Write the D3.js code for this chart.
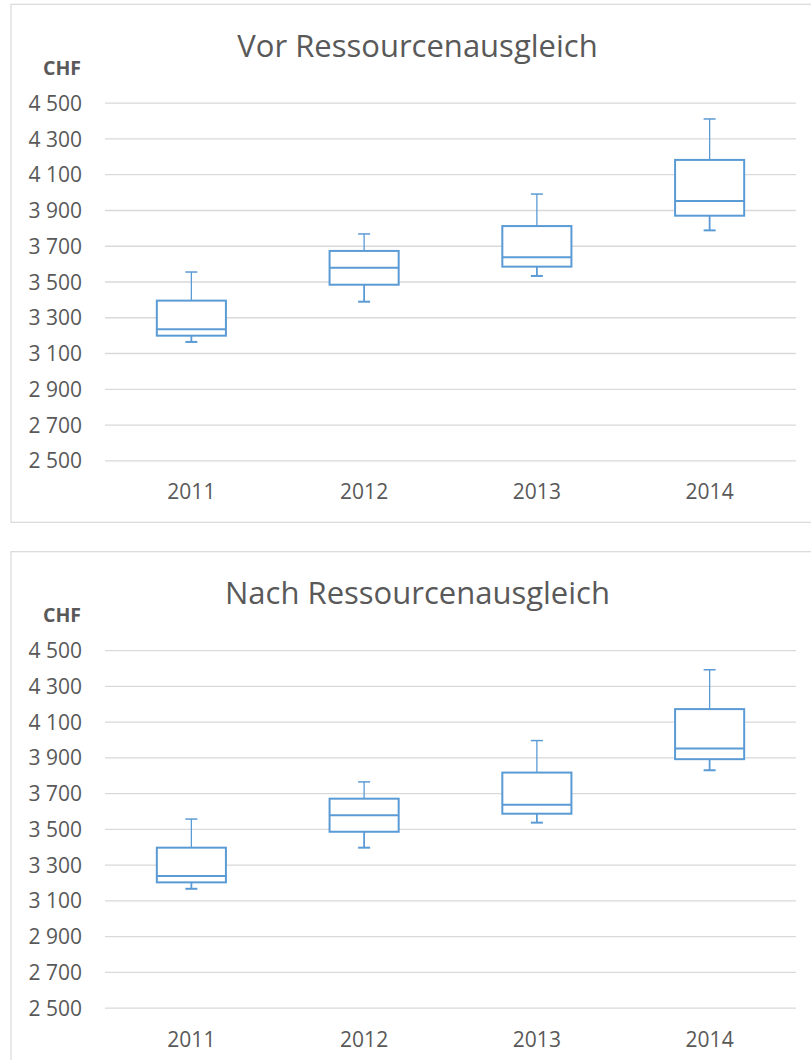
<!DOCTYPE html>
<html>
<head>
<meta charset="utf-8">
<script src="https://cdn.jsdelivr.net/npm/d3@7"></script>
<style>
  body { margin: 0; background: #fff; }
  svg { display: block; }
  text { font-family: "Open Sans", sans-serif; fill: #595959; }
</style>
</head>
<body>
<div id="chart"></div>
<script>
// DATA
const years = ['2011', '2012', '2013', '2014'];
const yTicks = [2500, 2700, 2900, 3100, 3300, 3500, 3700, 3900, 4100, 4300, 4500];

// vor Ressourcenausgleich
const vorMin    = [3162, 3387, 3531, 3786];
const vorQ1     = [3197, 3482, 3583, 3868];
const vorMedian = [3233, 3577, 3635, 3950];
const vorQ3     = [3393, 3671, 3810, 4180];
const vorMax    = [3553, 3766, 3989, 4409];

// nach Ressourcenausgleich
const nachMin    = [3165, 3395, 3535, 3828];
const nachQ1     = [3201, 3484, 3585, 3890];
const nachMedian = [3236, 3576, 3635, 3949];
const nachQ3     = [3395, 3669, 3815, 4170];
const nachMax    = [3555, 3763, 3994, 4390];

// DIMENSIONS
const width = 811;
const height = 1060;
const blue = '#5b9bd5';
const grid = '#d9d9d9';

const svg = d3.select('#chart').append('svg')
  .attr('width', width)
  .attr('height', height);

svg.append('rect').attr('width', width).attr('height', height).attr('fill', '#fff');

const fmt = d3.formatLocale({ decimal: '.', thousands: ' ', grouping: [3], currency: ['', ''] }).format(',d');

function drawChart(top, title, mins, q1s, medians, q3s, maxs) {
  const g = svg.append('g').attr('transform', `translate(0, ${top})`);

  // chart border (right edge runs past the picture)
  g.append('rect')
    .attr('x', 11).attr('y', 0)
    .attr('width', 813).attr('height', 518)
    .attr('fill', '#fff')
    .attr('stroke', grid)
    .attr('stroke-width', 1.2);

  // SCALES
  const x = d3.scaleBand().domain(years).range([105, 796]);
  const y = d3.scaleLinear().domain([2500, 4500]).range([456, 98.4]);

  // y axis + gridlines
  const yAxis = d3.axisLeft(y)
    .tickValues(yTicks)
    .tickSize(-(796 - 105))
    .tickPadding(23)
    .tickFormat(fmt);

  const ya = g.append('g')
    .attr('transform', 'translate(105, 0)')
    .call(yAxis);
  ya.select('.domain').remove();
  ya.selectAll('line').attr('stroke', grid).attr('stroke-width', 1.3);
  ya.selectAll('text')
    .attr('fill', '#595959')
    .style('font-size', '21px')
    .attr('dy', '0.36em');

  // x axis labels
  const xa = g.append('g')
    .attr('transform', `translate(0, ${y(2500)})`)
    .call(d3.axisBottom(x).tickSize(0).tickPadding(24));
  xa.select('.domain').remove();
  xa.selectAll('text')
    .attr('fill', '#595959')
    .style('font-size', '21px');

  // title + unit
  g.append('text')
    .attr('x', 417.5).attr('y', 52.6)
    .attr('text-anchor', 'middle')
    .style('font-size', '31px')
    .text(title);

  g.append('text')
    .attr('x', 62).attr('y', 70.5)
    .attr('text-anchor', 'middle')
    .style('font-size', '19.5px')
    .style('font-weight', 'bold')
    .text('CHF');

  // BOXES
  const data = years.map((yr, i) => ({
    year: yr, min: mins[i], q1: q1s[i], median: medians[i], q3: q3s[i], max: maxs[i]
  }));

  const boxW = x.bandwidth() * 0.4;
  const capW = 12;

  const boxes = g.selectAll('g.box')
    .data(data)
    .enter()
    .append('g')
    .attr('class', 'box')
    .attr('transform', d => `translate(${x(d.year) + x.bandwidth() / 2}, 0)`);

  // whiskers
  boxes.append('line')
    .attr('x1', 0).attr('x2', 0)
    .attr('y1', d => y(d.max)).attr('y2', d => y(d.q3))
    .attr('stroke', blue).attr('stroke-width', 1.3);
  boxes.append('line')
    .attr('x1', 0).attr('x2', 0)
    .attr('y1', d => y(d.q1)).attr('y2', d => y(d.min))
    .attr('stroke', blue).attr('stroke-width', 1.8);
  boxes.append('line')
    .attr('x1', -capW / 2).attr('x2', capW / 2)
    .attr('y1', d => y(d.max)).attr('y2', d => y(d.max))
    .attr('stroke', blue).attr('stroke-width', 1.5);
  boxes.append('line')
    .attr('x1', -capW / 2).attr('x2', capW / 2)
    .attr('y1', d => y(d.min)).attr('y2', d => y(d.min))
    .attr('stroke', blue).attr('stroke-width', 2);

  boxes.append('rect')
    .attr('x', -boxW / 2)
    .attr('width', boxW)
    .attr('y', d => y(d.q3))
    .attr('height', d => y(d.q1) - y(d.q3))
    .attr('fill', '#fff')
    .attr('stroke', blue)
    .attr('stroke-width', 2);

  boxes.append('line')
    .attr('x1', -boxW / 2).attr('x2', boxW / 2)
    .attr('y1', d => y(d.median)).attr('y2', d => y(d.median))
    .attr('stroke', blue).attr('stroke-width', 2);
}

drawChart(4.3, 'Vor Ressourcenausgleich', vorMin, vorQ1, vorMedian, vorQ3, vorMax);
drawChart(551.7, 'Nach Ressourcenausgleich', nachMin, nachQ1, nachMedian, nachQ3, nachMax);
</script>
</body>
</html>
